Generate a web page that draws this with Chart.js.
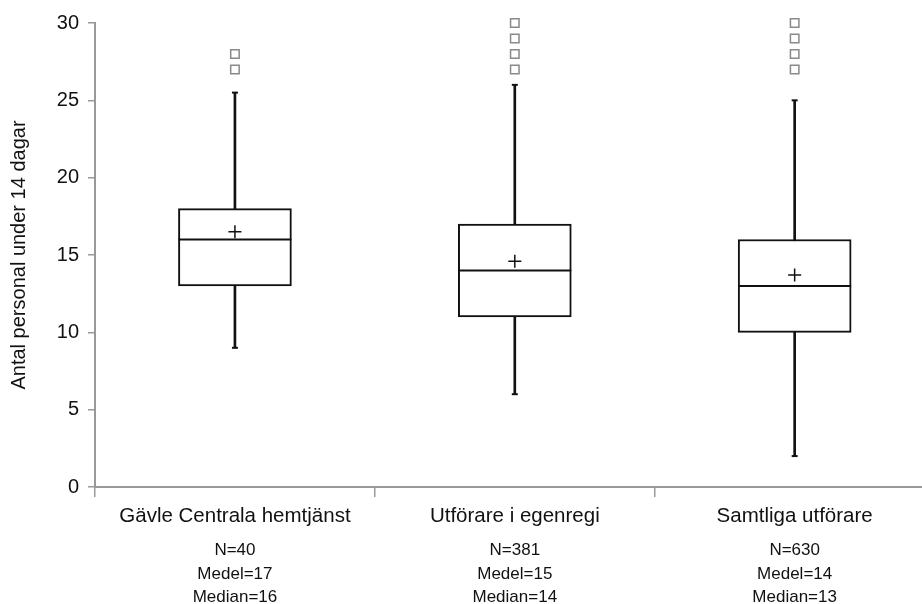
<!DOCTYPE html>
<html>
<head>
<meta charset="utf-8">
<script src="https://cdn.jsdelivr.net/npm/chart.js@4/dist/chart.umd.min.js"></script>
<style>
  html, body { margin: 0; padding: 0; background: #fff; overflow: hidden; }
  canvas { display: block; }
</style>
</head>
<body>
<canvas id="c" width="922" height="604"></canvas>
<script>
// ---- Data ----
const categories   = ['Gävle Centrala hemtjänst', 'Utförare i egenregi', 'Samtliga utförare'];
const nValues      = [40, 381, 630];
const meanLabels   = [17, 15, 14];
const medianLabels = [16, 14, 13];
const whiskerLow   = [9, 6, 2];
const q1           = [13, 11, 10];
const median       = [16, 14, 13];
const q3           = [18, 17, 16];
const whiskerHigh  = [25.5, 26, 25];
const means        = [16.5, 14.6, 13.7];
const outliers     = [[27, 28], [27, 28, 29, 30], [27, 28, 29, 30]];
const yTicks       = [0, 5, 10, 15, 20, 25, 30];
const yTitle       = 'Antal personal under 14 dagar';

// ---- Build library data from the arrays ----
const idx = categories.map((_, i) => i);
const boundaries = [-0.5].concat(idx.slice(0, -1).map(i => i + 0.5));

const boxData     = idx.map(i => ({ x: i, y: [q1[i], q3[i]] }));
const whiskerData = idx.map(i => ({ x: i, y: [whiskerLow[i], whiskerHigh[i]] }));
const capData     = idx.flatMap(i => [{ x: i, y: whiskerLow[i] }, { x: i, y: whiskerHigh[i] }]);
const medianData  = idx.map(i => ({ x: i, y: median[i] }));
const meanData    = idx.map(i => ({ x: i, y: means[i] }));
const outlierData = idx.flatMap(i => outliers[i].map(v => ({ x: i, y: v })));

const AX = '#999999';
const FONT = "'Liberation Sans', Arial, sans-serif";
Chart.defaults.font.family = FONT;
Chart.defaults.color = '#111';

const xMin = -0.5, xMax = 2.455;
const noPadH = s => { s.paddingLeft = 0; s.paddingRight = 0; };

new Chart(document.getElementById('c'), {
  type: 'bar',
  data: {
    datasets: [
      { type: 'bar', data: whiskerData, backgroundColor: '#111', borderWidth: 0,
        barThickness: 2, grouped: false, order: 5 },
      { type: 'bar', data: boxData, backgroundColor: '#fff', borderColor: '#111',
        borderWidth: 2, borderSkipped: false, barThickness: 113, grouped: false, order: 4 },
      { type: 'line', data: capData, showLine: false, pointStyle: 'line', pointRadius: 3,
        borderColor: '#111', borderWidth: 2, order: 1 },
      { type: 'line', data: medianData, showLine: false, pointStyle: 'line', pointRadius: 56.5,
        borderColor: '#111', borderWidth: 2, order: 1 },
      { type: 'line', data: meanData, showLine: false, pointStyle: 'cross', pointRadius: 6.5,
        borderColor: '#111', borderWidth: 1.5, order: 1 },
      { type: 'line', data: outlierData, showLine: false, pointStyle: 'rect', pointRadius: 6,
        borderColor: '#8a8a8a', backgroundColor: '#fff', borderWidth: 1.5, order: 1, clip: 10 }
    ]
  },
  options: {
    responsive: false,
    devicePixelRatio: 1,
    animation: false,
    events: [],
    layout: { autoPadding: false, padding: { top: 23, left: 0, right: 0, bottom: 0 } },
    plugins: { legend: { display: false }, tooltip: { enabled: false } },
    scales: {
      x: {
        type: 'linear', position: 'bottom', weight: 0, min: xMin, max: xMax, offset: false,
        afterBuildTicks: s => { s.ticks = boundaries.map(v => ({ value: v })); },
        afterFit: s => { s.height = 10; noPadH(s); },
        ticks: { display: false },
        grid: { drawOnChartArea: false, offset: false, tickLength: 10, color: AX, lineWidth: 1.5 },
        border: { color: AX, width: 2 }
      },
      x2: {
        type: 'linear', position: 'bottom', weight: 1, min: xMin, max: xMax, offset: false,
        afterBuildTicks: s => { s.ticks = idx.map(v => ({ value: v })); },
        afterFit: s => { s.height = 31; noPadH(s); },
        ticks: { autoSkip: false, maxRotation: 0, padding: 7, font: { size: 20.5 }, color: '#111',
                 callback: (v, i) => categories[i] },
        grid: { display: false, drawTicks: false, offset: false },
        border: { display: false }
      },
      x3: {
        type: 'linear', position: 'bottom', weight: 2, min: xMin, max: xMax, offset: false,
        afterBuildTicks: s => { s.ticks = idx.map(v => ({ value: v })); },
        afterFit: s => { s.height = 76; noPadH(s); },
        ticks: { autoSkip: false, maxRotation: 0, padding: 11, font: { size: 17, lineHeight: 1.38 },
                 color: '#111',
                 callback: (v, i) => ['N=' + nValues[i], 'Medel=' + meanLabels[i], 'Median=' + medianLabels[i]] },
        grid: { display: false, drawTicks: false, offset: false },
        border: { display: false }
      },
      y: {
        type: 'linear', min: 0, max: 30,
        afterBuildTicks: s => { s.ticks = yTicks.map(v => ({ value: v })); },
        afterFit: s => { s.width = 95; s.paddingTop = 0; s.paddingBottom = 0; },
        ticks: { padding: 9, font: { size: 20 }, color: '#111' },
        grid: { drawOnChartArea: false, tickLength: 7, color: AX, lineWidth: 1.5 },
        border: { color: AX, width: 2 },
        title: { display: true, text: yTitle, font: { size: 20 }, color: '#111', padding: { top: 7, bottom: 0 } }
      }
    }
  }
});
</script>
</body>
</html>
